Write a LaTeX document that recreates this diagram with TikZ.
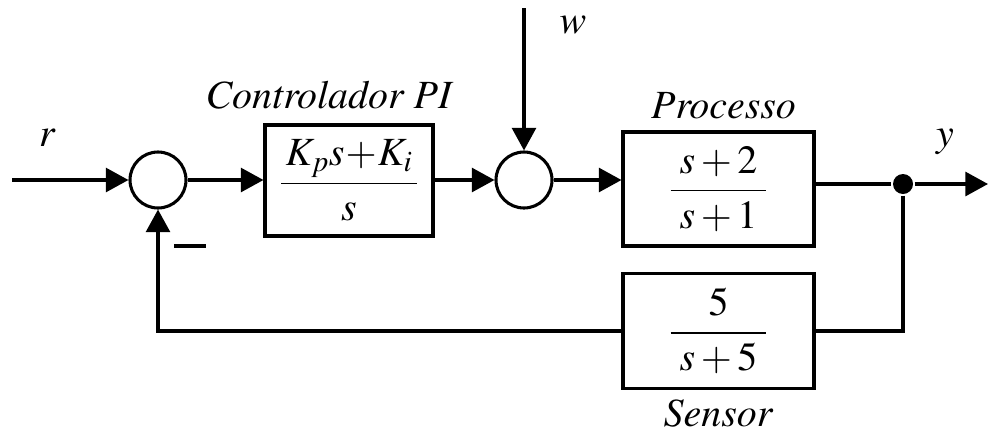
\documentclass[tikz,border=0pt]{standalone}
\usepackage[T1]{fontenc}
\usepackage{mathptmx}
\usetikzlibrary{arrows.meta}

\begin{document}
\begin{tikzpicture}[x=0.75pt,y=-0.75pt,
  line width=2.3pt,
  blk/.style={draw, rectangle, line width=2.3pt, inner sep=0pt,
              font=\fontsize{30}{36}\selectfont},
  sumnode/.style={draw, circle, minimum size=42pt, inner sep=0pt, line width=2.3pt},
  lbl/.style={font=\fontsize{30}{36}\selectfont\itshape, inner sep=0pt},
  sig/.style={-{Triangle[length=17pt,width=18pt]}},
  tapdot/.style={circle, fill=black, minimum size=15pt, inner sep=0pt},
]
\useasboundingbox (0,0) rectangle (988,436);

% summing junctions
\node[sumnode] (sum1) at (158,180) {};
\node[sumnode] (sum2) at (524,180) {};

% blocks
\node[blk, minimum width=126pt, minimum height=83.25pt] (ctrl) at (349,180.5)
  {$\displaystyle\frac{\,K_p s\!+\!K_i\,}{s}$};
\node[blk, minimum width=143.25pt, minimum height=85.5pt] (proc) at (718.5,189)
  {$\displaystyle\frac{\;s+2\;}{\;s+1\;}$};
\node[blk, minimum width=143.25pt, minimum height=86.25pt] (sens) at (718.5,331)
  {$\displaystyle\frac{\;5\;}{\;s+5\;}$};

% labels
\node[lbl, anchor=base] (lctrl) at (328.5,108) {Controlador PI};
\node[lbl, anchor=base] (lproc) at (723.5,118) {Processo};
\node[lbl, anchor=base] (lsens) at (718,426) {Sensor};
\node[lbl, anchor=base] (lr) at (47,146) {r};
\node[lbl, anchor=base] (lw) at (573,33) {w};
\node[lbl, anchor=base] (ly) at (945,146) {y};
\node[inner sep=0pt] (minus) at (190,246) {\rule{24pt}{2.3pt}};

% free ends
\coordinate (rin) at (12,180);
\coordinate (win) at (524,8);
\coordinate (yout) at (988,184);
\node[tapdot] (tap) at (903,184) {};

% signal paths
\draw[sig] (rin) -- (sum1.west);
\draw[sig] (sum1.east) -- (ctrl.west |- sum1.east);
\draw[sig] (ctrl.east |- sum2.west) -- (sum2.west);
\draw[sig] (win) -- (sum2.north);
\draw[sig] (sum2.east) -- (proc.west |- sum2.east);
\draw (proc.east |- tap) -- (tap);
\draw[sig] (tap) -- (yout);

% feedback loop
\draw (tap) |- (sens.east);
\draw[sig] (sens.west) -| (sum1.south);
\end{tikzpicture}
\end{document}
